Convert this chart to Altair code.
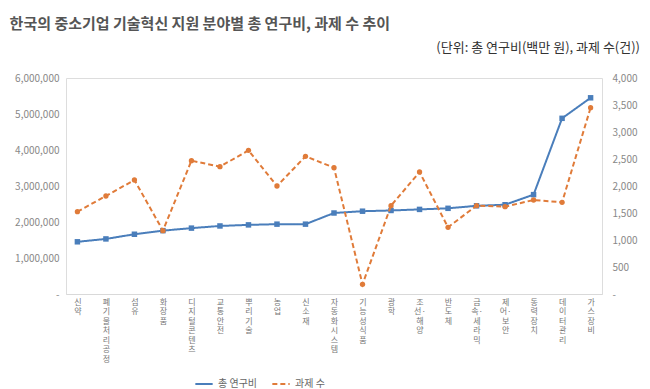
import altair as alt
import pandas as pd

categories = ["신약", "폐기물 처리공정", "섬유", "화장품", "디지털콘텐츠", "교통안전", "뿌리기술", "농업", "신소재",
              "자동화 시스템", "기능성식품", "광학", "조선·해양", "반도체", "금속·세라믹", "제어·보안", "동력장치",
              "데이터 관리", "가스장비"]
funding = [1450000, 1530000, 1660000, 1760000, 1830000, 1890000, 1920000, 1940000, 1940000,
           2250000, 2300000, 2320000, 2350000, 2380000, 2450000, 2480000, 2760000, 4880000, 5450000]
counts = [1524, 1815, 2111, 1173, 2469, 2358, 2660, 2000, 2549,
          2340, 179, 1636, 2259, 1235, 1636, 1617, 1741, 1698, 3450]
series_names = ["총 연구비", "과제 수"]
series_colors = ["#4a7ebb", "#e07b39"]
left_ticks = [0, 1000000, 2000000, 3000000, 4000000, 5000000, 6000000]
right_ticks = [0, 500, 1000, 1500, 2000, 2500, 3000, 3500, 4000]
title_text = "한국의 중소기업 기술혁신 지원 분야별 총 연구비, 과제 수 추이"
unit_text = "(단위: 총 연구비(백만 원), 과제 수(건))"

FONT = "Noto Sans CJK KR"

df1 = pd.DataFrame({"cat": categories, "value": funding, "series": series_names[0]})
df2 = pd.DataFrame({"cat": categories, "value": counts, "series": series_names[1]})

label_expr = ("split(replace(replace(datum.label, regexp(' ', 'g'), ''), "
              "regexp('(.)(?=[^·])', 'g'), '$1|'), '|')")

x_enc = alt.X("cat:N", sort=categories,
              scale=alt.Scale(type="point", padding=0.4),
              axis=alt.Axis(title=None, labelAngle=0, labelExpr=label_expr,
                            labelOverlap=False, labelLineHeight=9.5, labelBaseline="top",
                            labelFontSize=8, labelColor="#777777", labelPadding=4,
                            ticks=False, domainColor="#d9d9d9", labelFont=FONT,
                            labelLimit=0))

legend_def = alt.Legend(title=None, orient="none", legendX=128, legendY=296,
                        direction="horizontal", labelFont=FONT,
                        labelFontSize=10, labelColor="#666666",
                        symbolStrokeWidth=2, symbolSize=300,
                        columnPadding=10, symbolType="stroke")
color_enc = alt.Color("series:N", scale=alt.Scale(domain=series_names, range=series_colors),
                      legend=legend_def)
dash_enc = alt.StrokeDash("series:N", scale=alt.Scale(domain=series_names, range=[[1, 0], [5, 3]]),
                          legend=legend_def)

line1 = alt.Chart(df1).mark_line(
    strokeWidth=2,
    point=alt.OverlayMarkDef(shape="square", size=30, filled=True, color=series_colors[0])
).encode(
    x=x_enc,
    y=alt.Y("value:Q", scale=alt.Scale(domain=[0, 6000000]),
            axis=alt.Axis(title=None, orient="left", values=left_ticks, grid=False,
                          domain=False, ticks=False, labelFontSize=10, labelColor="#888888",
                          labelPadding=7, labelFont=FONT,
                          labelExpr="datum.value == 0 ? '-' : format(datum.value, ',')")),
    color=color_enc,
    strokeDash=dash_enc,
)

line2 = alt.Chart(df2).mark_line(
    strokeWidth=2,
    point=alt.OverlayMarkDef(shape="circle", size=28, filled=True, color=series_colors[1])
).encode(
    x=x_enc,
    y=alt.Y("value:Q", scale=alt.Scale(domain=[0, 4000]),
            axis=alt.Axis(title=None, orient="right", values=right_ticks, grid=False,
                          domain=False, ticks=False, labelFontSize=10, labelColor="#888888",
                          labelPadding=10, labelFont=FONT,
                          labelExpr="datum.value == 0 ? '-' : format(datum.value, ',')")),
    color=color_enc,
    strokeDash=dash_enc,
)

unit = alt.Chart(pd.DataFrame({"t": [unit_text]})).mark_text(
    align="right", baseline="middle", fontSize=13, color="#333333", font=FONT
).encode(text="t:N", x=alt.value(574), y=alt.value(-30))

chart = alt.layer(line1, line2, unit).resolve_scale(y="independent").properties(
    width=536, height=216,
    autosize=alt.AutoSizeParams(type="none"),
    padding={"left": 58, "top": 70, "right": 40, "bottom": 95},
    title=alt.TitleParams(text=title_text, anchor="start", dx=-5, fontSize=15,
                          fontWeight="bold", color="#555555", font=FONT, offset=10),
).configure_view(stroke=None).configure(background="white")

chart.save("out.html", embed_options={"renderer": "svg", "actions": False})
